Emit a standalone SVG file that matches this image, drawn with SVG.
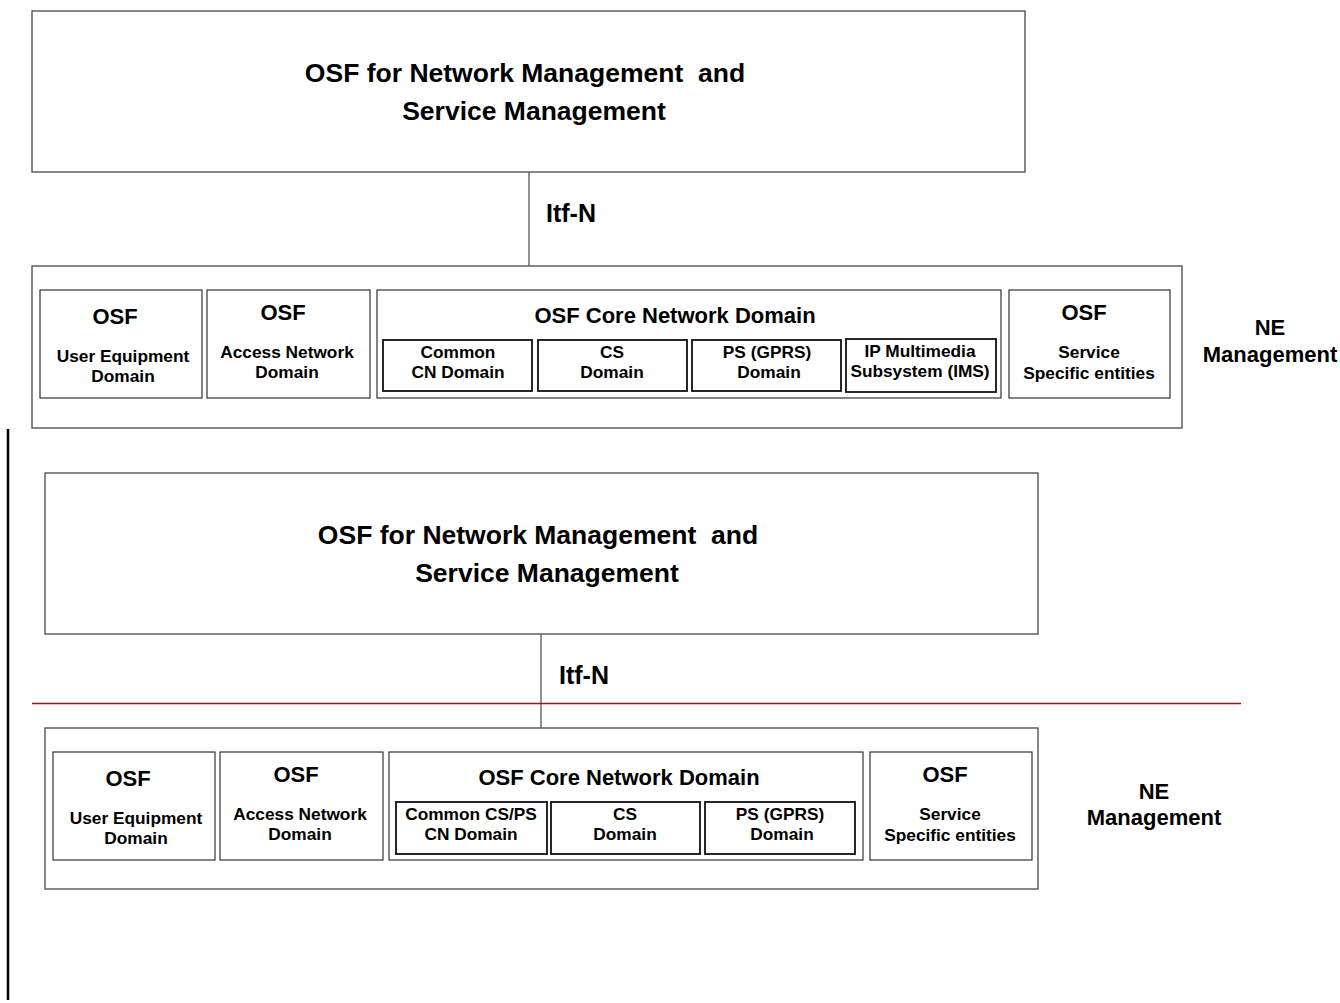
<svg xmlns="http://www.w3.org/2000/svg" width="1340" height="1003" viewBox="0 0 1340 1003">
<style>
.outer{fill:#fff;stroke:#555;stroke-width:1.4}
.box{fill:#fff;stroke:#333;stroke-width:1.2}
.sub{fill:#fff;stroke:#111;stroke-width:1.8}
.conn{stroke:#222;stroke-width:1;fill:none}
text{font-family:"Liberation Sans",Arial,sans-serif;font-weight:bold;fill:#000;text-anchor:middle}
.t1{font-size:26.5px}
.t2{font-size:25px}
.t3{font-size:17.3px}
.t4{font-size:22px}
</style>
<rect width="1340" height="1003" fill="#fff"/>
<g id="connectors">
<line class="conn" x1="529" y1="172" x2="529" y2="266"/>
<line class="conn" x1="541" y1="634" x2="541" y2="728"/>
<line x1="32" y1="703.5" x2="1241" y2="703.5" stroke="#cc0000" stroke-width="1.3"/>
<line x1="8" y1="429" x2="8" y2="1000" stroke="#000" stroke-width="2.5"/>
</g>
<g id="top-osf"><rect class="outer" x="32" y="11" width="993" height="161"/>
<text class="t1" x="525" y="82" xml:space="preserve">OSF for Network Management  and</text>
<text class="t1" x="534" y="120">Service Management</text></g>
<g id="itfn1"><text class="t2" x="571" y="222">Itf-N</text></g>
<g id="ne1"><rect class="outer" x="32" y="266" width="1150" height="162"/></g>
<g id="ue1"><rect class="box" x="40" y="290" width="162" height="108"/>
<text class="t4" x="115" y="324">OSF</text>
<text class="t3" x="123" y="362">User Equipment</text><text class="t3" x="123" y="382">Domain</text></g>
<g id="an1"><rect class="box" x="207" y="290" width="163" height="108"/>
<text class="t4" x="283" y="320">OSF</text>
<text class="t3" x="287" y="358">Access Network</text><text class="t3" x="287" y="378">Domain</text></g>
<g id="core1"><rect class="box" x="377" y="290" width="624" height="108"/>
<text class="t4" x="675" y="323">OSF Core Network Domain</text></g>
<g id="common1"><rect class="sub" x="383" y="340" width="149" height="51"/>
<text class="t3" x="458" y="358">Common</text><text class="t3" x="458" y="378">CN Domain</text></g>
<g id="cs1"><rect class="sub" x="538" y="340" width="149" height="51"/>
<text class="t3" x="612" y="358">CS</text><text class="t3" x="612" y="378">Domain</text></g>
<g id="ps1"><rect class="sub" x="692" y="340" width="149" height="51"/>
<text class="t3" x="767" y="358">PS (GPRS)</text><text class="t3" x="769" y="378">Domain</text></g>
<g id="ims1"><rect class="sub" x="846" y="339" width="150" height="53"/>
<text class="t3" x="920" y="357">IP Multimedia</text><text class="t3" x="920" y="377">Subsystem (IMS)</text></g>
<g id="svc1"><rect class="box" x="1009" y="290" width="161" height="108"/>
<text class="t4" x="1084" y="320">OSF</text>
<text class="t3" x="1089" y="358">Service</text><text class="t3" x="1089" y="379">Specific entities</text></g>
<g id="nelabel1"><text class="t4" x="1270" y="335">NE</text><text class="t4" x="1270" y="362">Management</text></g>

<g id="top-osf2"><rect class="outer" x="45" y="473" width="993" height="161"/>
<text class="t1" x="538" y="544" xml:space="preserve">OSF for Network Management  and</text>
<text class="t1" x="547" y="582">Service Management</text></g>
<g id="itfn2"><text class="t2" x="584" y="684">Itf-N</text></g>
<g id="ne2"><rect class="outer" x="45" y="728" width="993" height="161"/></g>
<g id="ue2"><rect class="box" x="53" y="752" width="162" height="108"/>
<text class="t4" x="128" y="786">OSF</text>
<text class="t3" x="136" y="824">User Equipment</text><text class="t3" x="136" y="844">Domain</text></g>
<g id="an2"><rect class="box" x="220" y="752" width="163" height="108"/>
<text class="t4" x="296" y="782">OSF</text>
<text class="t3" x="300" y="820">Access Network</text><text class="t3" x="300" y="840">Domain</text></g>
<g id="core2"><rect class="box" x="389" y="752" width="474" height="108"/>
<text class="t4" x="619" y="785">OSF Core Network Domain</text></g>
<g id="common2"><rect class="sub" x="396" y="802" width="151" height="52"/>
<text class="t3" x="471" y="820">Common CS/PS</text><text class="t3" x="471" y="840">CN Domain</text></g>
<g id="cs2"><rect class="sub" x="551" y="802" width="149" height="52"/>
<text class="t3" x="625" y="820">CS</text><text class="t3" x="625" y="840">Domain</text></g>
<g id="ps2"><rect class="sub" x="705" y="802" width="150" height="52"/>
<text class="t3" x="780" y="820">PS (GPRS)</text><text class="t3" x="782" y="840">Domain</text></g>
<g id="svc2"><rect class="box" x="870" y="752" width="162" height="108"/>
<text class="t4" x="945" y="782">OSF</text>
<text class="t3" x="950" y="820">Service</text><text class="t3" x="950" y="841">Specific entities</text></g>
<g id="nelabel2"><text class="t4" x="1154" y="799">NE</text><text class="t4" x="1154" y="825">Management</text></g>
</svg>
